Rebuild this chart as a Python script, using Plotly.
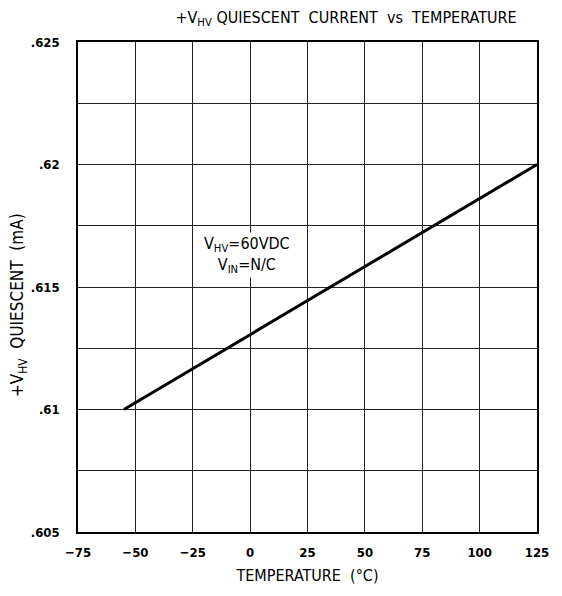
import plotly.graph_objects as go

temperature_c = [-55, 125]
quiescent_ma = [0.610, 0.620]

x_ticks = [-75, -50, -25, 0, 25, 50, 75, 100, 125]
y_ticks = [0.605, 0.61, 0.615, 0.62, 0.625]
y_ticktext = [".605", ".61", ".615", ".62", ".625"]

FONT = "DejaVu Sans Condensed, DejaVu Sans"

fig = go.Figure()
fig.add_trace(go.Scatter(x=temperature_c, y=quiescent_ma, mode="lines",
                         line=dict(color="black", width=3), showlegend=False))

fig.update_layout(
    width=554, height=588,
    margin=dict(l=70, r=25, t=34, b=64),
    paper_bgcolor="white", plot_bgcolor="white",
    font=dict(family=FONT, color="black", size=12),
    title=dict(text="+V<sub>HV</sub> QUIESCENT  CURRENT  vs  TEMPERATURE",
               x=(346 - 8) / 554, xanchor="center", y=1 - 9 / 588, yanchor="middle",
               font=dict(family=FONT, size=16, color="black")),
    xaxis=dict(range=[-75, 125], tickvals=x_ticks, ticktext=[str(v).replace("-", "−") for v in x_ticks],
               tickfont=dict(family=FONT, size=13, weight="bold"),
               showgrid=True, gridcolor="#222", gridwidth=1, zeroline=False,
               showline=True, linecolor="black", linewidth=1.5, mirror=True,
               ticks="", ticklabelstandoff=8,
               title=dict(text="TEMPERATURE  (°C)", font=dict(family=FONT, size=16), standoff=10)),
    yaxis=dict(range=[0.605, 0.625], tickvals=y_ticks, ticktext=y_ticktext,
               tickfont=dict(family=FONT, size=13, weight="bold"),
               showgrid=True, gridcolor="#222", gridwidth=1, zeroline=False,
               minor=dict(dtick=0.0025, tick0=0.605, showgrid=True, gridcolor="#222", gridwidth=1, ticks=""),
               showline=True, linecolor="black", linewidth=1.5, mirror=True,
               ticks="", ticklabelstandoff=14),
)

fig.add_annotation(x=-1.5, y=0.6163, xref="x", yref="y",
                   text="V<sub>HV</sub>=60VDC<br>V<sub>IN</sub>=N/C",
                   showarrow=False, align="center",
                   font=dict(family=FONT, size=16, color="black"),
                   bgcolor="white")

fig.add_annotation(x=(18 - 78) / 459, y=(532 - 305) / 490, xref="paper", yref="paper",
                   xanchor="center", yanchor="middle",
                   text="+V<sub>HV</sub>  QUIESCENT  (mA)", textangle=-90,
                   showarrow=False, font=dict(family=FONT, size=17, color="black"))

fig.write_html("out.html")
